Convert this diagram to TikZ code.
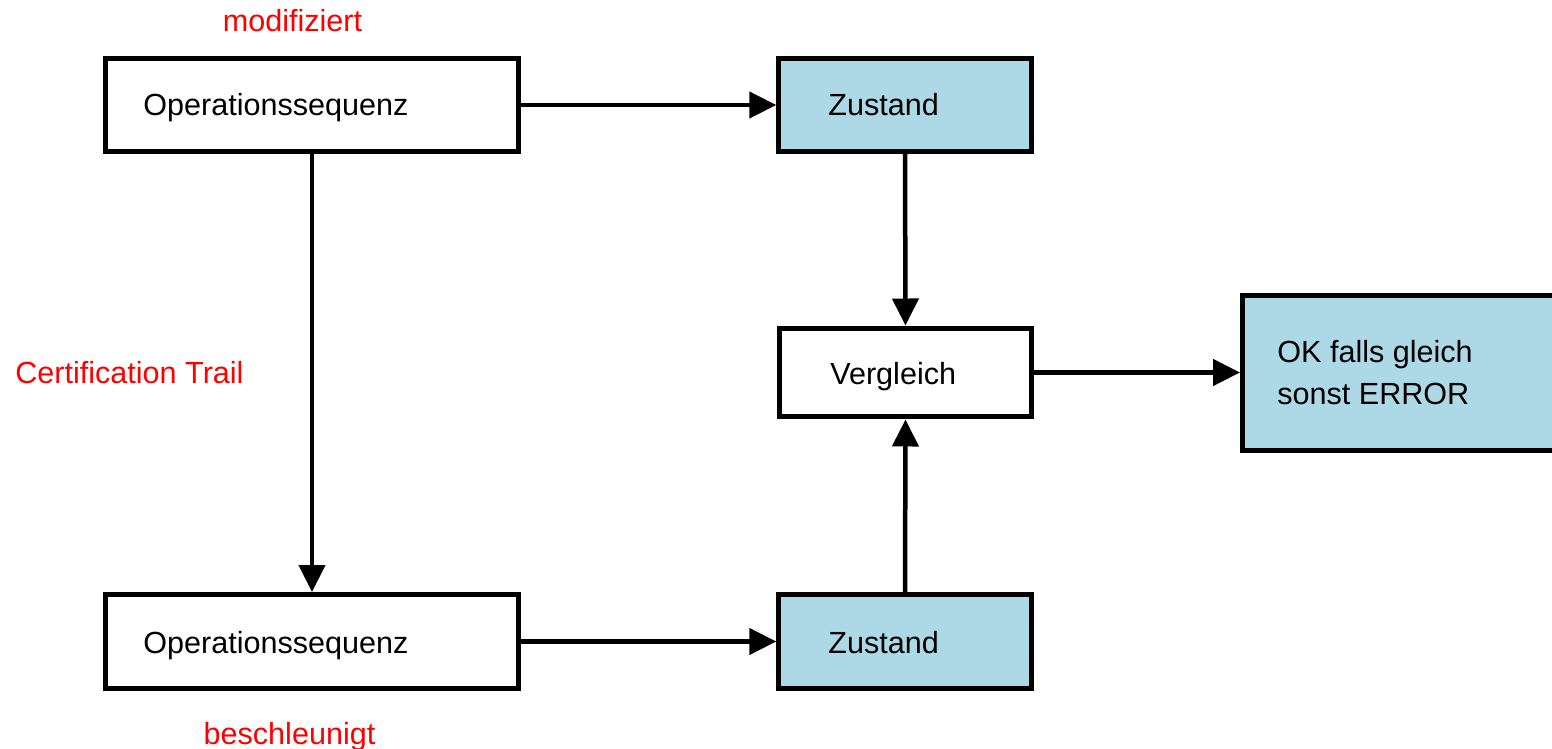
\documentclass[tikz,border=0pt]{standalone}
\usepackage{fontspec}
\setmainfont{Liberation Sans}
\usetikzlibrary{arrows.meta}
\definecolor{boxblue}{RGB}{173,216,230}
\definecolor{lblred}{RGB}{255,0,0}
\begin{document}
\begin{tikzpicture}[x=0.02cm,y=-0.02cm,
  box/.style={draw=black,line width=0.1cm,rectangle,inner sep=0pt},
  bluebox/.style={box,fill=boxblue},
  txt/.style={inner sep=0pt,font=\fontsize{17.4pt}{24pt}\selectfont,text=black},
  redtxt/.style={txt,text=lblred},
  conn/.style={line width=0.09cm,-{Triangle[length=0.54cm,width=0.52cm]}}]
\clip (0,0) rectangle (1552,749);
\useasboundingbox (0,0) rectangle (1552,749);
% boxes
\node[box,minimum width=8.25cm,minimum height=1.86cm] (op1) at (312,105) {};
\node[bluebox,minimum width=5.05cm,minimum height=1.86cm] (z1) at (905,105) {};
\node[box,minimum width=5.06cm,minimum height=1.78cm] (verg) at (905.5,372.5) {};
\node[bluebox,minimum width=6.3cm,minimum height=3.1cm] (ok) at (1400,373) {};
\node[box,minimum width=8.25cm,minimum height=1.88cm] (op2) at (312,641.5) {};
\node[bluebox,minimum width=5.05cm,minimum height=1.88cm] (z2) at (905,641.5) {};
% texts
\node[txt,anchor=base west] (t1) at (143,116) {Operationssequenz};
\node[txt,anchor=base west] (t2) at (828,116) {Zustand};
\node[txt,anchor=base west] (t3) at (830,385) {Vergleich};
\node[txt,anchor=base west] (t4) at (1277,363) {OK falls gleich};
\node[txt,anchor=base west] (t5) at (1277,405) {sonst ERROR};
\node[txt,anchor=base west] (t6) at (143,653) {Operationssequenz};
\node[txt,anchor=base west] (t7) at (828,653) {Zustand};
\node[redtxt,anchor=base] (r1) at (292.5,32) {modifiziert};
\node[redtxt,anchor=base west] (r2) at (15,384) {Certification Trail};
\node[redtxt,anchor=base] (r3) at (289.5,744) {beschleunigt};
% connectors
\draw[conn] (op1.east) -- (op1.east -| z1.west);
\draw[conn] (op2.east) -- (op2.east -| z2.west);
\draw[conn] (op1.south) -- (op2.north);
\draw[conn] (z1.south) -- (verg.north);
\draw[conn] (z2.north) -- (verg.south);
\draw[conn] (verg.east) -- (verg.east -| ok.west);
\end{tikzpicture}
\end{document}
